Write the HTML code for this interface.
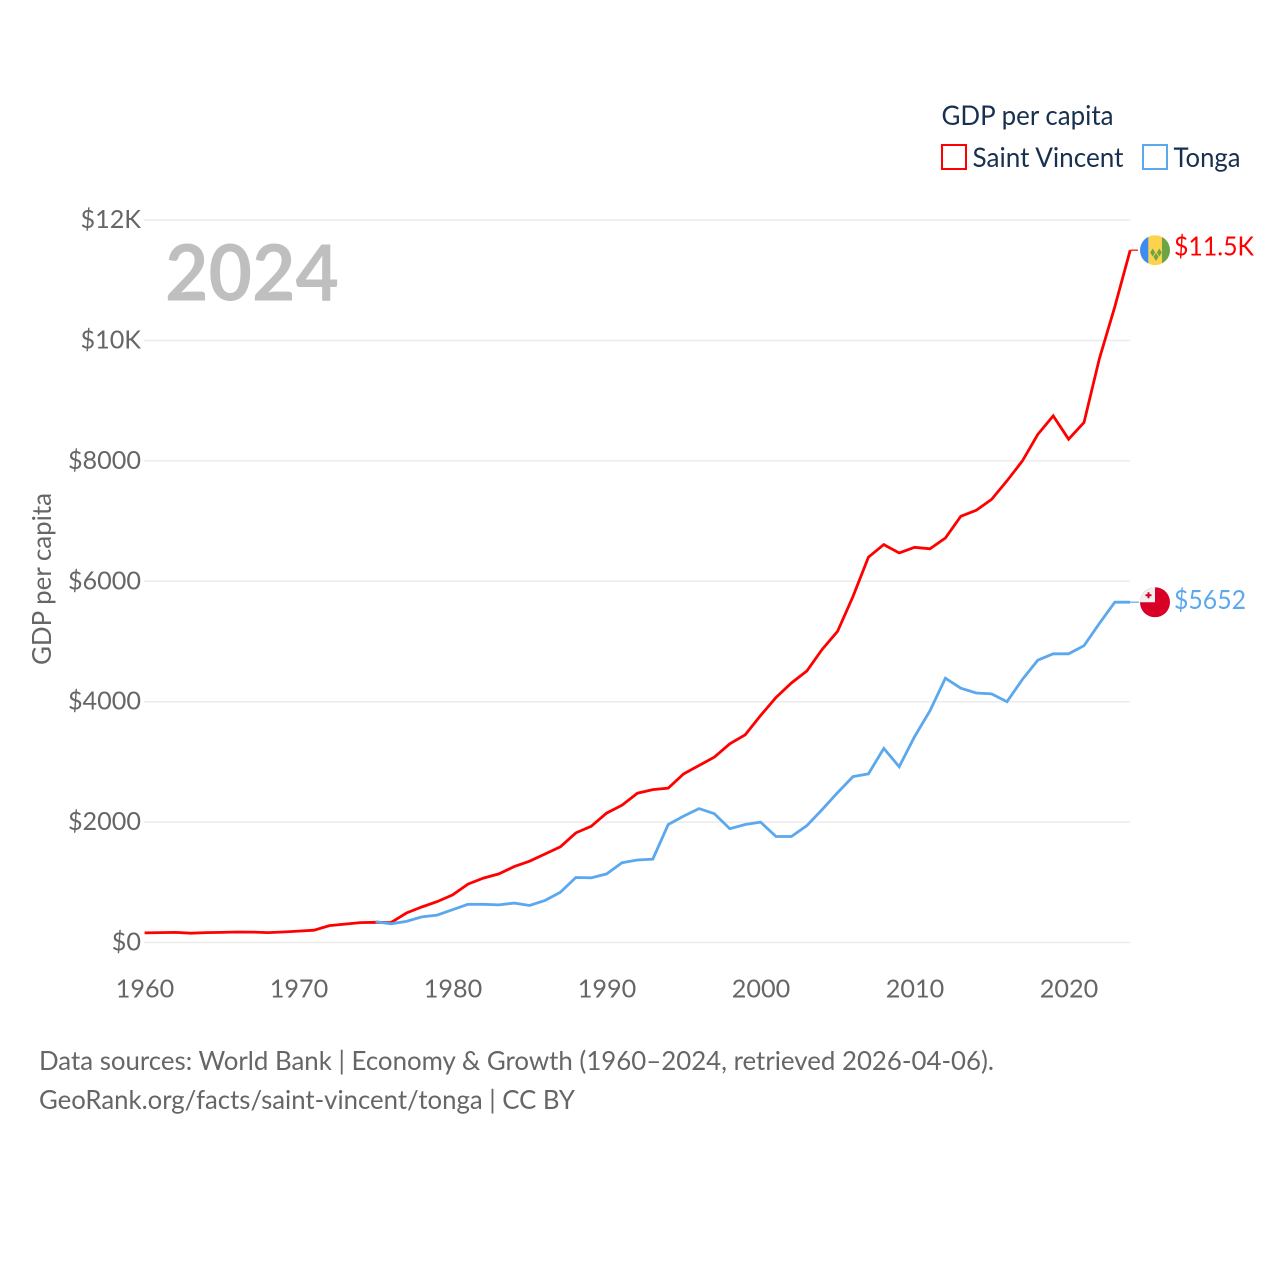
<!DOCTYPE html>
<html lang="en">
<head>
<meta charset="utf-8">
<title>GDP per capita: Saint Vincent and Tonga</title>
<style>
html,body{margin:0;padding:0;background:#fff;}
svg{display:block;}
text{font-family:"Lato","Carlito","Liberation Sans",sans-serif;}
</style>
</head>
<body>
<svg id="chart" xmlns="http://www.w3.org/2000/svg" width="1280" height="1280" viewBox="0 0 1280 1280">
  <defs>
    <clipPath id="flag-clip"><circle cx="0" cy="0" r="15"/></clipPath>
  </defs>
  <rect width="1280" height="1280" fill="#fff"/>
  <g id="grid"></g>
  <g id="y-ticks"></g>
  <g id="x-ticks"></g>
  <text x="165" y="300.5" font-size="78" font-weight="700" fill="#bfbfbf" textLength="174" lengthAdjust="spacingAndGlyphs">2024</text>
  <text transform="translate(51,665) rotate(-90)" font-size="26" fill="#666" textLength="172" lengthAdjust="spacingAndGlyphs">GDP per capita</text>
  <g id="series"></g>

  <g id="flag-vc">
    <g clip-path="url(#flag-clip)">
      <rect x="-15" y="-15" width="8.4" height="30" fill="#3f8cf0"/>
      <rect x="-6.6" y="-15" width="13.6" height="30" fill="#fdd24c"/>
      <rect x="7" y="-15" width="8" height="30" fill="#6da544"/>
      <polygon points="-2.3,-1.7 0.2,2.3 -2.3,6.3 -4.8,2.3" fill="#6da544"/>
      <polygon points="4.3,-1.7 6.8,2.3 4.3,6.3 1.8,2.3" fill="#6da544"/>
      <polygon points="1,2.7 3.5,6.7 1,10.7 -1.5,6.7" fill="#6da544"/>
    </g>
  </g>
  <g id="flag-to">
    <g clip-path="url(#flag-clip)">
      <rect x="-15" y="-15" width="30" height="30" fill="#d80027"/>
      <rect x="-15" y="-15" width="15" height="15" fill="#f0f0f0"/>
      <rect x="-7.5" y="-10" width="2" height="6" fill="#d80027"/>
      <rect x="-9.5" y="-8" width="6" height="2" fill="#d80027"/>
    </g>
  </g>
  <text id="label-vc" x="1174" font-size="26" fill="#ff0000" textLength="80" lengthAdjust="spacingAndGlyphs">$11.5K</text>
  <text id="label-to" x="1174" font-size="26" fill="#5ba8ee" textLength="72" lengthAdjust="spacingAndGlyphs">$5652</text>

  <g>
    <text x="941.5" y="125" font-size="27" fill="#18304f" textLength="172" lengthAdjust="spacingAndGlyphs">GDP per capita</text>
    <g>
      <rect x="942" y="145" width="24" height="24" fill="none" stroke="#ff0000" stroke-width="2"/>
      <text x="972.5" y="167" font-size="27" fill="#18304f" textLength="151" lengthAdjust="spacingAndGlyphs">Saint Vincent</text>
    </g>
    <g>
      <rect x="1143" y="145" width="24" height="24" fill="none" stroke="#5ba8ee" stroke-width="2"/>
      <text x="1173.5" y="167" font-size="27" fill="#18304f" textLength="67" lengthAdjust="spacingAndGlyphs">Tonga</text>
    </g>
  </g>

  <text x="39" y="1070" font-size="26" fill="#666" textLength="955" lengthAdjust="spacingAndGlyphs">Data sources: World Bank | Economy &amp; Growth (1960–2024, retrieved 2026-04-06).</text>
  <text x="39" y="1109" font-size="26" fill="#666" textLength="536" lengthAdjust="spacingAndGlyphs">GeoRank.org/facts/saint-vincent/tonga | CC BY</text>

  <script>
    var yTickValues = [0, 2000, 4000, 6000, 8000, 10000, 12000];
    var yTickLabels = ['$0', '$2000', '$4000', '$6000', '$8000', '$10K', '$12K'];
    var xTickYears = [1960, 1970, 1980, 1990, 2000, 2010, 2020];
    var saintVincentStartYear = 1960;
    var saintVincentValues = [160,165,167,155,165,168,175,173,165,175,190,205,280,305,330,335,330,490,590,680,790,970,1070,1140,1260,1350,1470,1590,1820,1930,2150,2280,2480,2540,2565,2800,2940,3080,3300,3450,3770,4070,4310,4510,4870,5170,5750,6400,6610,6470,6565,6540,6720,7080,7180,7360,7670,8000,8440,8750,8360,8640,9700,10560,11500];
    var tongaStartYear = 1975;
    var tongaValues = [345,310,350,425,455,545,635,635,625,655,615,700,835,1080,1075,1140,1325,1370,1385,1960,2100,2225,2140,1890,1960,2000,1760,1760,1940,2210,2490,2755,2800,3225,2920,3420,3850,4390,4225,4145,4130,4000,4370,4690,4795,4795,4930,5300,5652,5652];

    var NS = 'http://www.w3.org/2000/svg';
    function xScale(year) { return 144.6 + (year - 1960) * 15.4; }
    function yScale(value) { return 942.5 - value * 0.0602; }
    function make(tag, attrs, parent) {
      var el = document.createElementNS(NS, tag);
      for (var k in attrs) { el.setAttribute(k, attrs[k]); }
      parent.appendChild(el);
      return el;
    }

    var gridG = document.getElementById('grid');
    var yG = document.getElementById('y-ticks');
    yTickValues.forEach(function (v, i) {
      var line = make('line', {x1: 144, x2: 1130, y1: yScale(v), y2: yScale(v), stroke: '#ebebeb', 'stroke-width': 1.5}, gridG);
      
      
      var t = make('text', {x: 141, y: yScale(v) + 8, 'text-anchor': 'end', 'font-size': 25.2, fill: '#666'}, yG);
      
      
      t.textContent = yTickLabels[i];
    });

    var xG = document.getElementById('x-ticks');
    xTickYears.forEach(function (y) {
      var t = make('text', {x: xScale(y) + 0.4, y: 997.5, 'text-anchor': 'middle', 'font-size': 25.2, fill: '#666'}, xG);
      
      
      t.textContent = y;
    });

    function points(startYear, values) {
      return values.map(function (v, i) {
        return xScale(startYear + i).toFixed(1) + ',' + yScale(v).toFixed(1);
      }).join(' ');
    }

    var seriesG = document.getElementById('series');
    var redLine = make('polyline', {points: points(saintVincentStartYear, saintVincentValues), fill: 'none', stroke: '#ff0000', 'stroke-width': 2.8, 'stroke-linejoin': 'miter'}, seriesG);
    
    
    var blueLine = make('polyline', {points: points(tongaStartYear, tongaValues), fill: 'none', stroke: '#5ba8ee', 'stroke-width': 2.8, 'stroke-linejoin': 'miter'}, seriesG);
    
    

    var vcLast = saintVincentValues[saintVincentValues.length - 1];
    var toLast = tongaValues[tongaValues.length - 1];
    var redLead = make('line', {x1: xScale(2024), x2: 1138, y1: yScale(vcLast), y2: yScale(vcLast), stroke: '#ff0000', 'stroke-width': 1.5, opacity: 0.8}, seriesG);
    
    
    var blueLead = make('line', {x1: xScale(2024), x2: 1139, y1: yScale(toLast), y2: yScale(toLast), stroke: '#5ba8ee', 'stroke-width': 1.5, opacity: 0.8}, seriesG);
    
    

    document.getElementById('flag-vc').setAttribute('transform', 'translate(1155,' + yScale(vcLast) + ')');
    document.getElementById('flag-to').setAttribute('transform', 'translate(1155,' + yScale(toLast) + ')');
    document.getElementById('label-vc').setAttribute('y', yScale(vcLast) + 5.5);
    document.getElementById('label-to').setAttribute('y', yScale(toLast) + 7);
  </script>
</svg>
</body>
</html>
